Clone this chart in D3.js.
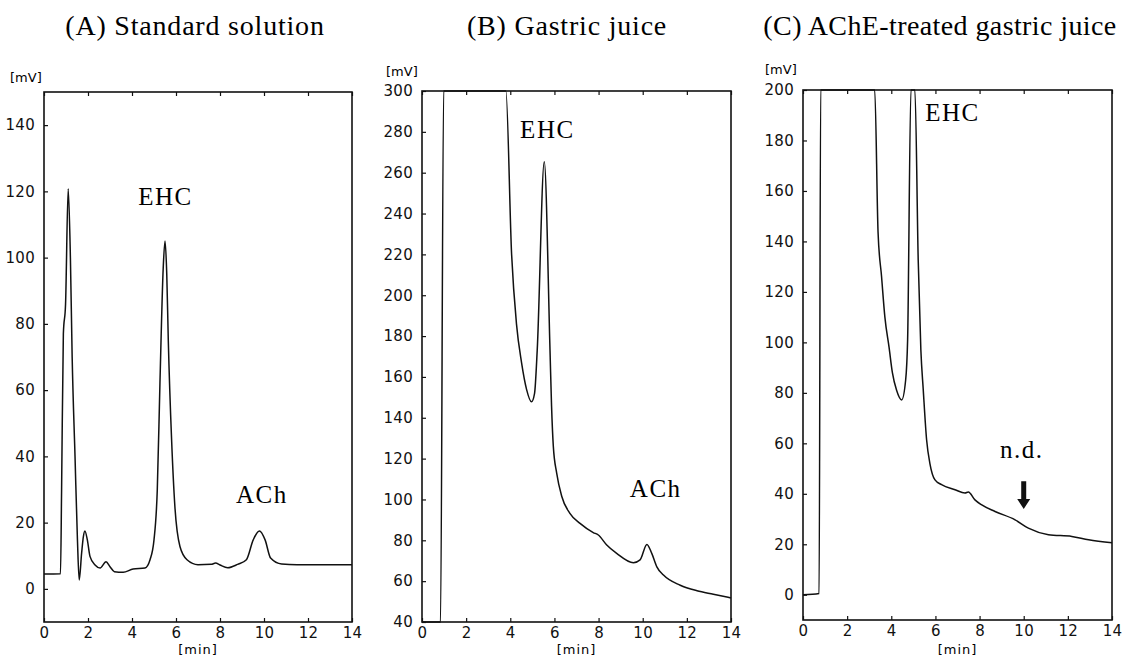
<!DOCTYPE html>
<html>
<head>
<meta charset="utf-8">
<script src="https://cdn.jsdelivr.net/npm/d3@7"></script>
<style>
  body { margin: 0; background: #fff; }
  .tick text { font-family: "DejaVu Sans", sans-serif; font-size: 15px; letter-spacing: 0.3px; fill: #111; }
</style>
</head>
<body>
<div id="chart"></div>
<script>
// retention time [min] and detector signal [mV]
const timesA  = [0, 0.75, 0.8, 0.88, 0.98, 1.1, 1.2, 1.28, 1.41, 1.52, 1.6, 1.71, 1.79, 1.86, 1.97, 2.09, 2.32, 2.55, 2.82, 3.0, 3.2, 3.6, 4.05, 4.59, 4.82, 5.0, 5.15, 5.27, 5.42, 5.5, 5.58, 5.65, 5.8, 5.95, 6.18, 6.5, 7.0, 7.6, 7.8, 8.0, 8.35, 8.8, 9.2, 9.51, 9.79, 10.05, 10.3, 10.8, 11.5, 14];
const signalA = [4.5, 4.6, 30, 77, 86, 120.8, 100, 70, 40, 14.8, 2.7, 10.8, 15.8, 17.5, 14.8, 9.8, 7.2, 6.3, 8.2, 6.7, 5.2, 5.0, 6.0, 6.3, 8.8, 14.8, 30, 62, 97, 105, 95, 75, 45, 24.8, 12.8, 8.8, 7.3, 7.4, 7.8, 7.2, 6.4, 7.4, 8.8, 14.8, 17.5, 14.8, 9.3, 7.5, 7.3, 7.3];

const timesB  = [0, 0.84, 0.98, 3.8, 4.06, 4.28, 4.51, 4.74, 4.96, 5.1, 5.22, 5.54, 5.8, 5.87, 5.95, 6.1, 6.33, 6.7, 7.16, 7.76, 7.99, 8.37, 8.82, 9.58, 9.88, 10.19, 10.41, 10.64, 10.94, 11.7, 12.46, 13.2, 14];
const signalB = [30, 30, 320, 305, 220, 186, 167, 153.8, 147.8, 152, 173, 265.4, 173, 145.7, 126, 113, 101.6, 93.2, 88.3, 83.8, 82.6, 77.7, 73.6, 69, 70.4, 78, 73.6, 67, 63, 58, 55.3, 53.6, 51.8];

const timesC  = [0, 0.73, 0.8, 3.25, 3.4, 3.56, 3.71, 3.9, 4.05, 4.24, 4.47, 4.65, 4.74, 4.89, 4.95, 5.07, 5.22, 5.34, 5.45, 5.6, 5.75, 5.98, 6.28, 6.89, 7.34, 7.49, 7.79, 8.1, 8.7, 9.61, 10.21, 11.12, 12.18, 12.94, 14];
const signalC = [0, 0.5, 210, 205, 143.7, 126, 110, 98, 88, 81, 77.2, 85, 101, 200, 220, 200, 132.6, 97, 81, 61.4, 52, 45.5, 43.6, 41.6, 40.3, 40.7, 37.6, 35.6, 33, 29.7, 26.4, 23.8, 23.1, 21.8, 20.6];

const xTicks  = [0, 2, 4, 6, 8, 10, 12, 14];
const yTicksA = [0, 20, 40, 60, 80, 100, 120, 140];
const yTicksB = [40, 60, 80, 100, 120, 140, 160, 180, 200, 220, 240, 260, 280, 300];
const yTicksC = [0, 20, 40, 60, 80, 100, 120, 140, 160, 180, 200];

const titles = ["(A) Standard solution", "(B) Gastric juice", "(C) AChE-treated gastric juice"];
const yDomains = [[-10, 150], [40, 300], [-10, 200]];

// peak labels: [time, mV, text]
const labelsA = [[5.52, 116, "EHC"], [9.9, 26, "ACh"]];
const labelsB = [[5.68, 277, "EHC"], [10.59, 101.2, "ACh"]];
const labelsC = [[6.77, 187.7, "EHC"], [9.91, 54.3, "n.d."]];
// arrow in panel C: time, from mV, to mV
const arrowC = [10, 45, 34];

var width = 1125, height = 660;

var svg = d3.select("#chart").append("svg")
    .attr("width", width)
    .attr("height", height);

var panels = [
  {left: 44,  right: 352,  top: 92, bottom: 622, titleX: 195, titleLs: 0.8, mvX: 10,  mvY: 82,
   t: timesA, v: signalA, ticks: yTicksA, labels: labelsA},
  {left: 422, right: 731,  top: 91, bottom: 622, titleX: 567, titleLs: 0.8, mvX: 386, mvY: 76,
   t: timesB, v: signalB, ticks: yTicksB, labels: labelsB},
  {left: 803, right: 1112, top: 90, bottom: 620, titleX: 940, titleLs: 0.4, mvX: 765, mvY: 74,
   t: timesC, v: signalC, ticks: yTicksC, labels: labelsC}
];

panels.forEach(function (p, i) {
  var x = d3.scaleLinear().domain([0, 14]).range([p.left, p.right]);
  var y = d3.scaleLinear().domain(yDomains[i]).range([p.bottom, p.top]).clamp(true);

  var g = svg.append("g");

  // title
  svg.append("text")
    .attr("x", p.titleX).attr("y", 35)
    .attr("text-anchor", "middle")
    .style("font-family", "'Liberation Serif', 'Times New Roman', serif")
    .style("font-size", "28px")
    .style("letter-spacing", p.titleLs + "px")
    .text(titles[i]);

  // axes, ticks pointing inwards
  g.append("g").attr("transform", "translate(" + p.left + ",0)")
    .call(d3.axisLeft(y).tickValues(p.ticks).tickSize(-4).tickPadding(9))
    .call(function (a) { a.select(".domain").remove(); });
  g.append("g").attr("transform", "translate(0," + p.bottom + ")")
    .call(d3.axisBottom(x).tickValues(xTicks).tickSize(-4).tickPadding(5))
    .call(function (a) { a.select(".domain").remove(); });
  g.append("g").attr("transform", "translate(0," + p.top + ")")
    .call(d3.axisTop(x).tickValues(xTicks).tickSize(-4).tickFormat(""))
    .call(function (a) { a.select(".domain").remove(); });
  g.selectAll(".tick line").attr("stroke", "#111").attr("stroke-width", 1.2);

  // frame
  g.append("rect")
    .attr("x", p.left).attr("y", p.top)
    .attr("width", p.right - p.left).attr("height", p.bottom - p.top)
    .attr("fill", "none").attr("stroke", "#111").attr("stroke-width", 1.6);

  // unit labels
  g.append("text").attr("x", p.mvX).attr("y", p.mvY)
    .style("font-family", "'DejaVu Sans', sans-serif").style("font-size", "13px")
    .text("[mV]");
  g.append("text").attr("x", (p.left + p.right) / 2).attr("y", 654)
    .attr("text-anchor", "middle")
    .style("font-family", "'DejaVu Sans', sans-serif").style("font-size", "13px")
    .style("letter-spacing", "1px")
    .text("[min]");

  // chromatogram trace
  var line = d3.line()
    .x(function (d) { return x(d[0]); })
    .y(function (d) { return y(d[1]); })
    .curve(d3.curveMonotoneX);

  g.append("path")
    .datum(d3.zip(p.t, p.v))
    .attr("d", line)
    .attr("fill", "none")
    .attr("stroke", "#111")
    .attr("stroke-width", 1.5)
    .attr("stroke-linejoin", "round");

  // peak labels
  g.selectAll(".peak")
    .data(p.labels)
    .enter().append("text")
    .attr("x", function (d) { return x(d[0]); })
    .attr("y", function (d) { return y(d[1]); })
    .attr("text-anchor", "middle")
    .style("font-family", "'Liberation Serif', 'Times New Roman', serif")
    .style("font-size", "25px")
    .style("letter-spacing", "1.5px")
    .text(function (d) { return d[2]; });

  if (i === 2) {
    var ax = x(arrowC[0]), y0 = y(arrowC[1]), y1 = y(arrowC[2]);
    var headLen = 10, headW = 6.5, shaft = 2.5;
    g.append("path")
      .attr("d", "M" + (ax - shaft) + "," + y0 + "L" + (ax + shaft) + "," + y0 +
                 "L" + (ax + shaft) + "," + (y1 - headLen) + "L" + (ax + headW) + "," + (y1 - headLen) +
                 "L" + ax + "," + y1 + "L" + (ax - headW) + "," + (y1 - headLen) +
                 "L" + (ax - shaft) + "," + (y1 - headLen) + "Z")
      .attr("fill", "#111");
  }
});
</script>
</body>
</html>
